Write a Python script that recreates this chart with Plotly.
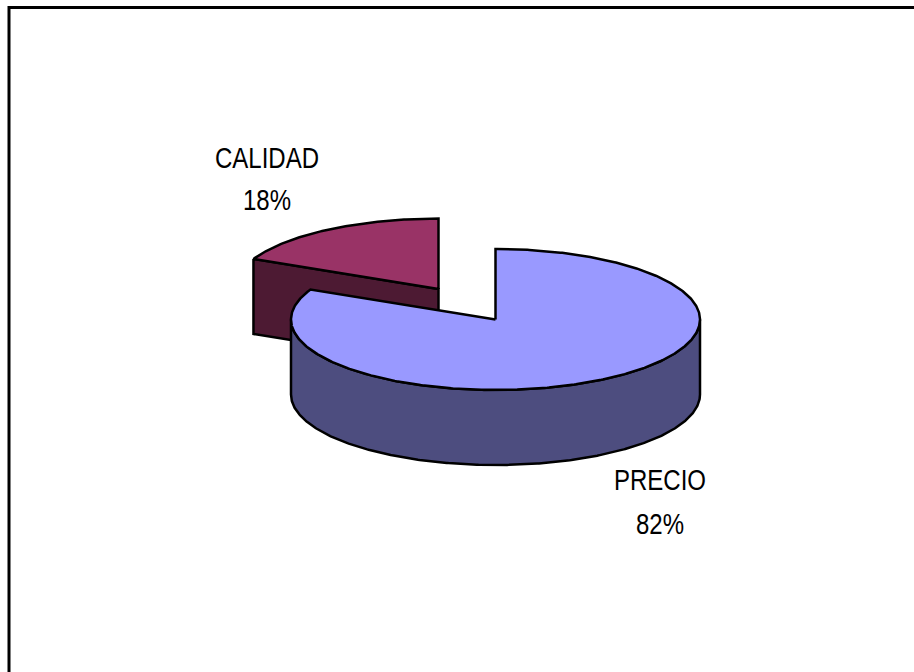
import numpy as np
import plotly.graph_objects as go

# Data
categories = ["PRECIO", "CALIDAD"]
values = [82, 18]

# Styles and pie geometry (pixel-based projection)
top_colors = ["#9999FF", "#993366"]
side_colors = ["#4D4D7F", "#4D1A33"]
centers = [(495.5, 319.5), (438.5, 289)]
RX, RY, DEPTH = 204.5, 70.5, 75
label_pos = [(660, 483, 527), (267, 161, 203)]
LINE = dict(color="black", width=2.5)
FONT = "Liberation Sans, Arial"
FONT_SIZE = 30
TEXT_SQUEEZE = 0.80

W, H = 914, 672


def rim(center, t0, t1, drop=0.0):
    """Points on the projected ellipse between two clockwise-from-top angles."""
    t = np.radians(np.linspace(t0, t1, max(int(abs(t1 - t0)) * 2, 2)))
    return center[0] + RX * np.sin(t), center[1] - RY * np.cos(t) + drop


def poly(xs, ys, color):
    return go.Scatter(x=list(xs), y=list(ys), mode="lines", fill="toself", fillcolor=color,
                      line=LINE, hoverinfo="skip", showlegend=False)


total = sum(values)
end_precio = 360 * values[0] / total

fig = go.Figure()

# CALIDAD: cut faces, then top
c = centers[1]
ex, ey = rim(c, end_precio, end_precio)
ex0, ey0 = ex[0], ey[0]
fig.add_trace(poly([ex0, c[0], c[0], ex0, ex0],
                   [ey0, c[1], c[1] + DEPTH, ey0 + DEPTH, ey0], side_colors[1]))
x, y = rim(c, end_precio, 360)
fig.add_trace(poly([c[0], *x, c[0]], [c[1], *y, c[1]], top_colors[1]))

# PRECIO: outer wall, then top
c = centers[0]
xt, yt = rim(c, 90, 270)
xb, yb = rim(c, 270, 90, DEPTH)
fig.add_trace(poly([*xt, *xb, xt[0]], [*yt, *yb, yt[0]], side_colors[0]))
x, y = rim(c, 0, end_precio)
fig.add_trace(poly([c[0], *x, c[0]], [c[1], *y, c[1]], top_colors[0]))

# Labels
for name, val, (lx, ly1, ly2) in zip(categories, values, label_pos):
    pct = round(100 * val / total)
    for text, yy in ((name, ly1), (f"{pct}%", ly2)):
        fig.add_trace(go.Scatter(x=[lx], y=[yy], mode="text", text=[text], textposition="middle center",
                                 textfont=dict(family=FONT, size=FONT_SIZE, color="black"),
                                 hoverinfo="skip", showlegend=False))

fig.update_layout(
    width=W, height=H, margin=dict(l=0, r=0, t=0, b=0),
    paper_bgcolor="white", plot_bgcolor="white",
    xaxis=dict(range=[0, W], visible=False, fixedrange=True),
    yaxis=dict(range=[H, 0], visible=False, fixedrange=True),
    shapes=[dict(type="path", path=f"M 9 {H} L 9 7.5 L {W} 7.5", xref="x", yref="y",
                 line=dict(color="black", width=3))],
)

post = """
document.body.style.margin = '0';
document.documentElement.style.overflow = 'hidden';
var gd = document.getElementById('{plot_id}');
function squeeze() {
  gd.querySelectorAll('.textpoint text').forEach(function (t) {
    var x = parseFloat(t.getAttribute('x')) || 0;
    t.setAttribute('transform', 'translate(' + x + ',0) scale(%s,1) translate(' + (-x) + ',0)');
  });
}
squeeze();
gd.on('plotly_afterplot', squeeze);
""" % TEXT_SQUEEZE
fig.write_html("out.html", config=dict(displayModeBar=False), post_script=post)
